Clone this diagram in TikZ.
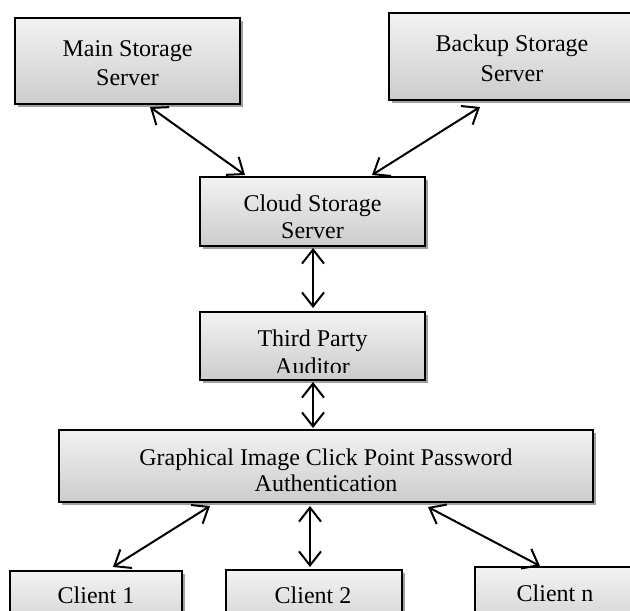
\documentclass[tikz,border=0pt]{standalone}
\usepackage{fontspec}
\setmainfont{Liberation Serif}
\usetikzlibrary{arrows.meta,shadows,calc}
\begin{document}
\begin{tikzpicture}[x=0.5pt,y=-0.5pt,
  box/.style={draw=black, line width=1pt, top color=gray!10, bottom color=gray!40,
    drop shadow={shadow xshift=1.5pt, shadow yshift=-1.5pt, fill=gray!75, opacity=1},
    inner sep=0pt, outer sep=0pt},
  lbl/.style={align=center, inner sep=0pt},
  tip/.tip={Straight Barb[length=7pt,width=11pt,line width=1pt]},
  link/.style={line width=1pt, tip-tip}]
\clip (0,0) rectangle (630,610);
% boxes
\node[box, minimum width=112.5pt, minimum height=43pt] (main) at (127.5,61) {};
\node[box, minimum width=125.5pt, minimum height=43.5pt] (backup) at (514.5,56.5) {};
\node[box, minimum width=112.5pt, minimum height=34.5pt] (cloud) at (312.5,211.5) {};
\node[box, minimum width=112.5pt, minimum height=34pt] (tpa) at (312.5,346) {};
\node[box, minimum width=267pt, minimum height=36pt] (gicp) at (326,466) {};
\node[box, minimum width=86pt, minimum height=34.5pt] (c1) at (96,605.5) {};
\node[box, minimum width=88pt, minimum height=35pt] (c2) at (314,605) {};
\node[box, minimum width=85pt, minimum height=36.5pt] (cn) at (560,603.5) {};
% texts
\node[lbl, font=\fontsize{12}{14.5}\selectfont] (mainT) at (127.5,63.5) {Main Storage\\Server};
\node[lbl, font=\fontsize{12}{15}\selectfont] (backupT) at (512,58) {Backup Storage\\Server};
\node[lbl, font=\fontsize{12}{13.5}\selectfont] (cloudT) at (312.5,216.5) {Cloud Storage\\Server};
\begin{scope}
  \clip (201,313) rectangle (424,372);
  \node[lbl, font=\fontsize{12}{14}\selectfont] (tpaT) at (312.5,352) {Third Party\\Auditor};
\end{scope}
\node[lbl, font=\fontsize{12}{13}\selectfont] (gicpT) at (326,470) {Graphical Image Click Point Password\\Authentication};
\node[lbl, font=\fontsize{12}{13}\selectfont] (c1T) at (96,595) {Client 1};
\node[lbl, font=\fontsize{12}{13}\selectfont] (c2T) at (313,595) {Client 2};
\node[lbl, font=\fontsize{12}{13}\selectfont] (cnT) at (555,593) {Client n};
% connectors
\draw[link] ($(main.south west)+(135,3)$) -- ($(cloud.north west)+(45,-2)$);
\draw[link] ($(backup.south west)+(91,7)$) -- ($(cloud.north west)+(172,-2)$);
\draw[link] ($(cloud.south)+(0.5,2)$) -- ($(tpa.north)+(0.5,-4)$);
\draw[link] ($(tpa.south)+(0.5,2)$) -- ($(gicp.north)+(-13,-2)$);
\draw[link] ($(gicp.south west)+(151,4)$) -- ($(c1.north west)+(103,-4)$);
\draw[link] ($(gicp.south west)+(251,4)$) -- ($(c2.north west)+(84,-3)$);
\draw[link] ($(gicp.south west)+(369,5)$) -- ($(cn.north west)+(65,-1)$);
\end{tikzpicture}
\end{document}
